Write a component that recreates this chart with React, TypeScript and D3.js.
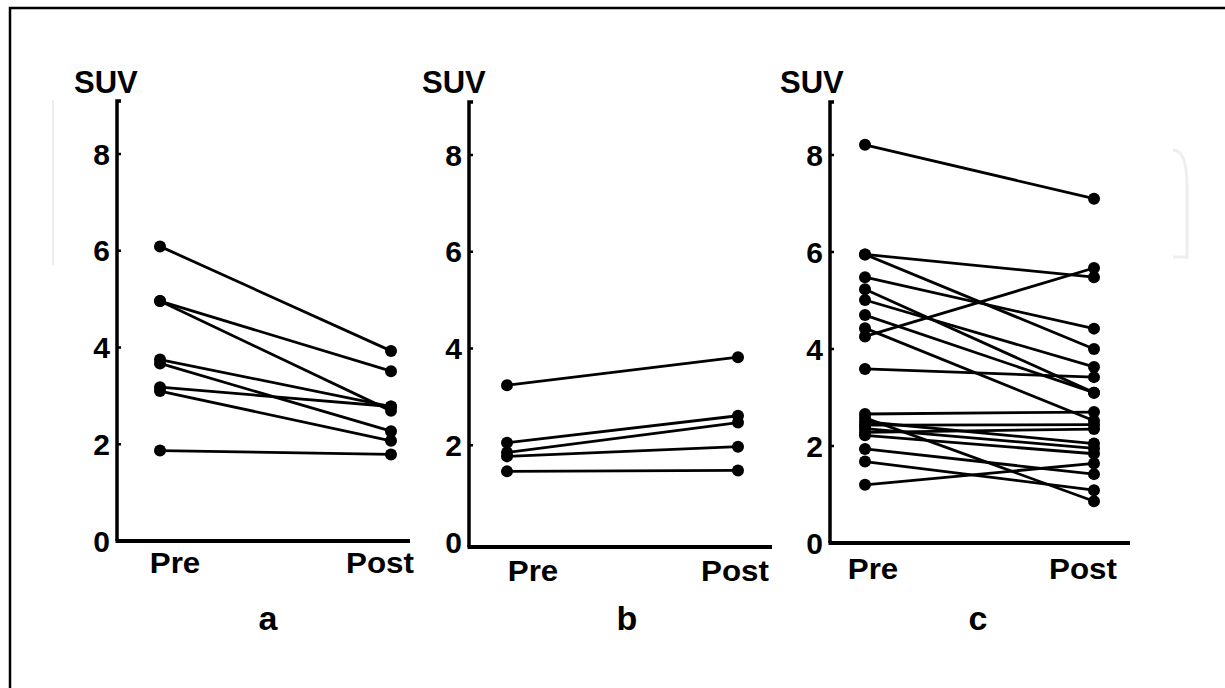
import React from "react";
import * as d3 from "d3";

// Shared categories / ticks
const timepoints = ["Pre", "Post"];
const yTicks = [0, 2, 4, 6, 8];
const axisLabel = "SUV";

// Panel a: SUV per patient, Pre -> Post
const preA = [6.09, 4.96, 4.96, 3.75, 3.67, 3.18, 3.1, 1.87];
const postA = [3.93, 3.51, 2.69, 2.78, 2.27, 2.78, 2.07, 1.79];

// Panel b
const preB = [3.24, 2.05, 1.85, 1.77, 1.46];
const postB = [3.82, 2.61, 2.47, 1.97, 1.48];

// Panel c
const preC = [
  8.21, 5.95, 5.95, 5.48, 5.23, 5.01, 4.7, 4.43, 4.26, 3.59,
  2.66, 2.58, 2.5, 2.43, 2.36, 2.28, 2.22, 1.94, 1.68, 1.2,
];
const postC = [
  7.1, 5.48, 4.0, 4.42, 3.1, 3.63, 3.1, 2.52, 5.67, 3.42,
  2.7, 0.86, 2.05, 2.44, 1.95, 2.35, 1.84, 1.42, 1.09, 1.64,
];

interface PanelLayout {
  letter: string;
  pre: number[];
  post: number[];
  axisX: number;
  axisEnd: number;
  preX: number;
  postX: number;
  y0: number;
  y8: number;
  axisTop: number;
  xAxisY: number;
  suvX: number;
  labelY: number;
  labelPreX: number;
  labelPostX: number;
  letterX: number;
}

const panels: PanelLayout[] = [
  {
    letter: "a", pre: preA, post: postA,
    axisX: 117, axisEnd: 410, preX: 160, postX: 391,
    y0: 541, y8: 154, axisTop: 101, xAxisY: 541,
    suvX: 74, labelY: 573, labelPreX: 175, labelPostX: 380, letterX: 268,
  },
  {
    letter: "b", pre: preB, post: postB,
    axisX: 469, axisEnd: 772, preX: 507, postX: 738,
    y0: 542, y8: 155, axisTop: 102, xAxisY: 547,
    suvX: 422, labelY: 581, labelPreX: 533, labelPostX: 735, letterX: 627,
  },
  {
    letter: "c", pre: preC, post: postC,
    axisX: 830, axisEnd: 1130, preX: 865, postX: 1094,
    y0: 543, y8: 155, axisTop: 102, xAxisY: 543,
    suvX: 780, labelY: 579, labelPreX: 873, labelPostX: 1083, letterX: 978,
  },
];

const FONT = "'Liberation Sans', Arial, Helvetica, sans-serif";

function Panel({ p }: { p: PanelLayout }) {
  const y = d3.scaleLinear().domain([0, 8]).range([p.y0, p.y8]);
  const x = d3.scalePoint<string>().domain(timepoints).range([p.preX, p.postX]);
  const line = d3
    .line<[string, number]>()
    .x((d) => x(d[0]) as number)
    .y((d) => y(d[1]));

  const pairs = p.pre.map((v, i) => [
    [timepoints[0], v],
    [timepoints[1], p.post[i]],
  ] as [string, number][]);

  return (
    <g>
      {/* y axis with small serif at top */}
      <path
        d={`M${p.axisX + 4},${p.axisTop}H${p.axisX}V${p.xAxisY}`}
        fill="none"
        stroke="#000"
        strokeWidth={3.5}
      />
      {yTicks.map((t) => (
        <g key={t}>
          {t > 0 && (
            <line
              x1={p.axisX}
              x2={p.axisX + 4}
              y1={y(t)}
              y2={y(t)}
              stroke="#000"
              strokeWidth={2.5}
            />
          )}
          <text
            x={p.axisX - 7}
            y={y(t)}
            textAnchor="end"
            dominantBaseline="central"
            fontFamily={FONT}
            fontWeight="bold"
            fontSize={30}
          >
            {t}
          </text>
        </g>
      ))}
      {/* x axis */}
      <line
        x1={p.axisX - 1.5}
        x2={p.axisEnd}
        y1={p.xAxisY}
        y2={p.xAxisY}
        stroke="#000"
        strokeWidth={4}
      />
      <text x={p.suvX} y={93} fontFamily={FONT} fontWeight="bold" fontSize={31}>
        {axisLabel}
      </text>
      {/* paired lines */}
      {pairs.map((d, i) => (
        <path key={i} d={line(d) || ""} fill="none" stroke="#000" strokeWidth={2.8} />
      ))}
      {pairs.map((d, i) =>
        d.map((pt, j) => (
          <circle key={`${i}-${j}`} cx={x(pt[0])} cy={y(pt[1])} r={6} fill="#000" />
        ))
      )}
      {[p.labelPreX, p.labelPostX].map((lx, i) => (
        <text
          key={timepoints[i]}
          transform={`translate(${lx},${p.labelY}) scale(1.08,1)`}
          textAnchor="middle"
          fontFamily={FONT}
          fontWeight="bold"
          fontSize={29}
        >
          {timepoints[i]}
        </text>
      ))}
      <text
        x={p.letterX}
        y={630}
        textAnchor="middle"
        fontFamily={FONT}
        fontWeight="bold"
        fontSize={34}
      >
        {p.letter}
      </text>
    </g>
  );
}

export default function App() {
  return (
    <svg
      width={1225}
      height={688}
      style={{ position: "absolute", left: 0, top: 0, background: "#fff" }}
    >
      <rect x={0} y={0} width={1225} height={688} fill="#fff" />
      {/* faint watermark frame */}
      <path d="M53,100V265" fill="none" stroke="#eeeeee" strokeWidth={2} />
      <path
        d="M1173,150H1174Q1187,152 1187,185V257H1173"
        fill="none"
        stroke="#eeeeee"
        strokeWidth={3}
      />
      {/* outer frame */}
      <rect x={10} y={8} width={1400} height={900} fill="none" stroke="#000" strokeWidth={2.5} />
      {panels.map((p) => (
        <Panel key={p.letter} p={p} />
      ))}
    </svg>
  );
}
